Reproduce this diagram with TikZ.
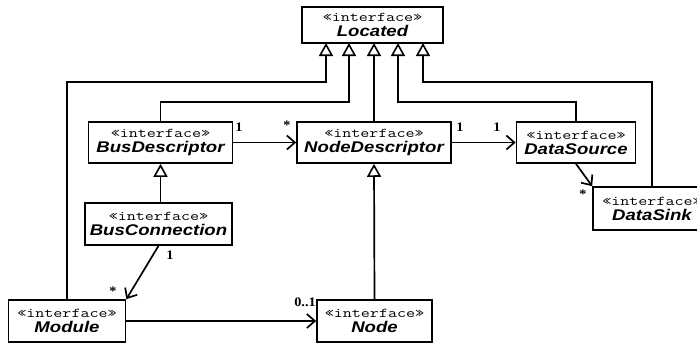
\documentclass[tikz,border=0pt]{standalone}
\usepackage{fontspec}
\usepackage{graphicx}
\usetikzlibrary{arrows.meta,calc}
\newfontfamily\namefont{Liberation Sans}[FakeStretch=1.2]
\newfontfamily\multfont{Liberation Serif}[FakeStretch=1.1]
\newcommand{\iface}[1]{\scalebox{1.3}[1]{\ttfamily\fontsize{13.5}{12}\selectfont «interface»}\\[3pt]{\namefont\bfseries\itshape\fontsize{15.5}{16}\selectfont #1}}
\tikzset{
  cls/.style={draw=black, line width=1.7pt, fill=white, align=center, inner sep=0pt, minimum height=41pt},
  gen/.style={draw=black, line width=1.7pt, -{Triangle[open,length=13pt,width=14pt,line width=1.6pt]}},
  assoc/.style={draw=black, line width=1.7pt, -{Straight Barb[length=8pt,width=14pt,line width=1.7pt]}},
  mult/.style={font=\multfont\bfseries\fontsize{13}{13}\selectfont, inner sep=0pt},
}
\begin{document}
\begin{tikzpicture}[x=1pt,y=-1pt]
\useasboundingbox (0,0) rectangle (697,343);
\clip (0,0) rectangle (697,343);
\fill[white] (0,0) rectangle (697,343);
% classes
\node[cls, minimum width=141pt, minimum height=36pt] (located) at (372.5,25) {\iface{Located}};
\node[cls, minimum width=144pt] (busd) at (160.5,142.5) {\iface{BusDescriptor}};
\node[cls, minimum width=154pt] (noded) at (374,142.5) {\iface{NodeDescriptor}};
\node[cls, minimum width=119pt] (dsrc) at (576,142.5) {\iface{DataSource}};
\node[cls, minimum width=118pt, minimum height=43pt] (dsink) at (652,208.5) {\iface{DataSink}};
\node[cls, minimum width=147pt, minimum height=42pt] (busc) at (158.5,224) {\iface{BusConnection}};
\node[cls, minimum width=117pt, minimum height=42pt] (module) at (67,321) {\iface{Module}};
\node[cls, minimum width=115pt, minimum height=42pt] (node) at (374.5,321) {\iface{Node}};
% attachment points on Located
\coordinate (l1) at (326,43);
\coordinate (l2) at (349,43);
\coordinate (l3) at (374,43);
\coordinate (l4) at (398,43);
\coordinate (l5) at (423,43);
\coordinate (ra) at (0,82);
\coordinate (rb) at (0,102);
% generalizations
\draw[gen] (module.north) |- (ra -| l1) -- (l1);
\draw[gen] (busd.north) |- (rb -| l2) -- (l2);
\draw[gen] (noded.north) -- (l3);
\draw[gen] (dsrc.north) |- (rb -| l4) -- (l4);
\draw[gen] (dsink.north) |- (ra -| l5) -- (l5);
\draw[gen] (busc.north -| busd.south) -- (busd.south);
\draw[gen] (node.north) -- (noded.south);
% associations
\draw[assoc] (busd.east) -- (noded.west);
\draw[assoc] (noded.east) -- (dsrc.west);
\draw[assoc] (dsrc.south) -- (dsink.north west);
\draw[assoc] (busc.south) -- (module.north east);
\draw[assoc] (module.east) -- (node.west);
% multiplicities
\node[mult] (m1) at (239,127) {1};
\node[mult] (m2) at (287,125) {*};
\node[mult] (m3) at (460,127) {1};
\node[mult] (m4) at (497,127) {1};
\node[mult] (m5) at (583,194) {*};
\node[mult] (m6) at (170,255) {1};
\node[mult] (m7) at (113,291) {*};
\node[mult] (m8) at (305,302) {0..1};
\end{tikzpicture}
\end{document}
